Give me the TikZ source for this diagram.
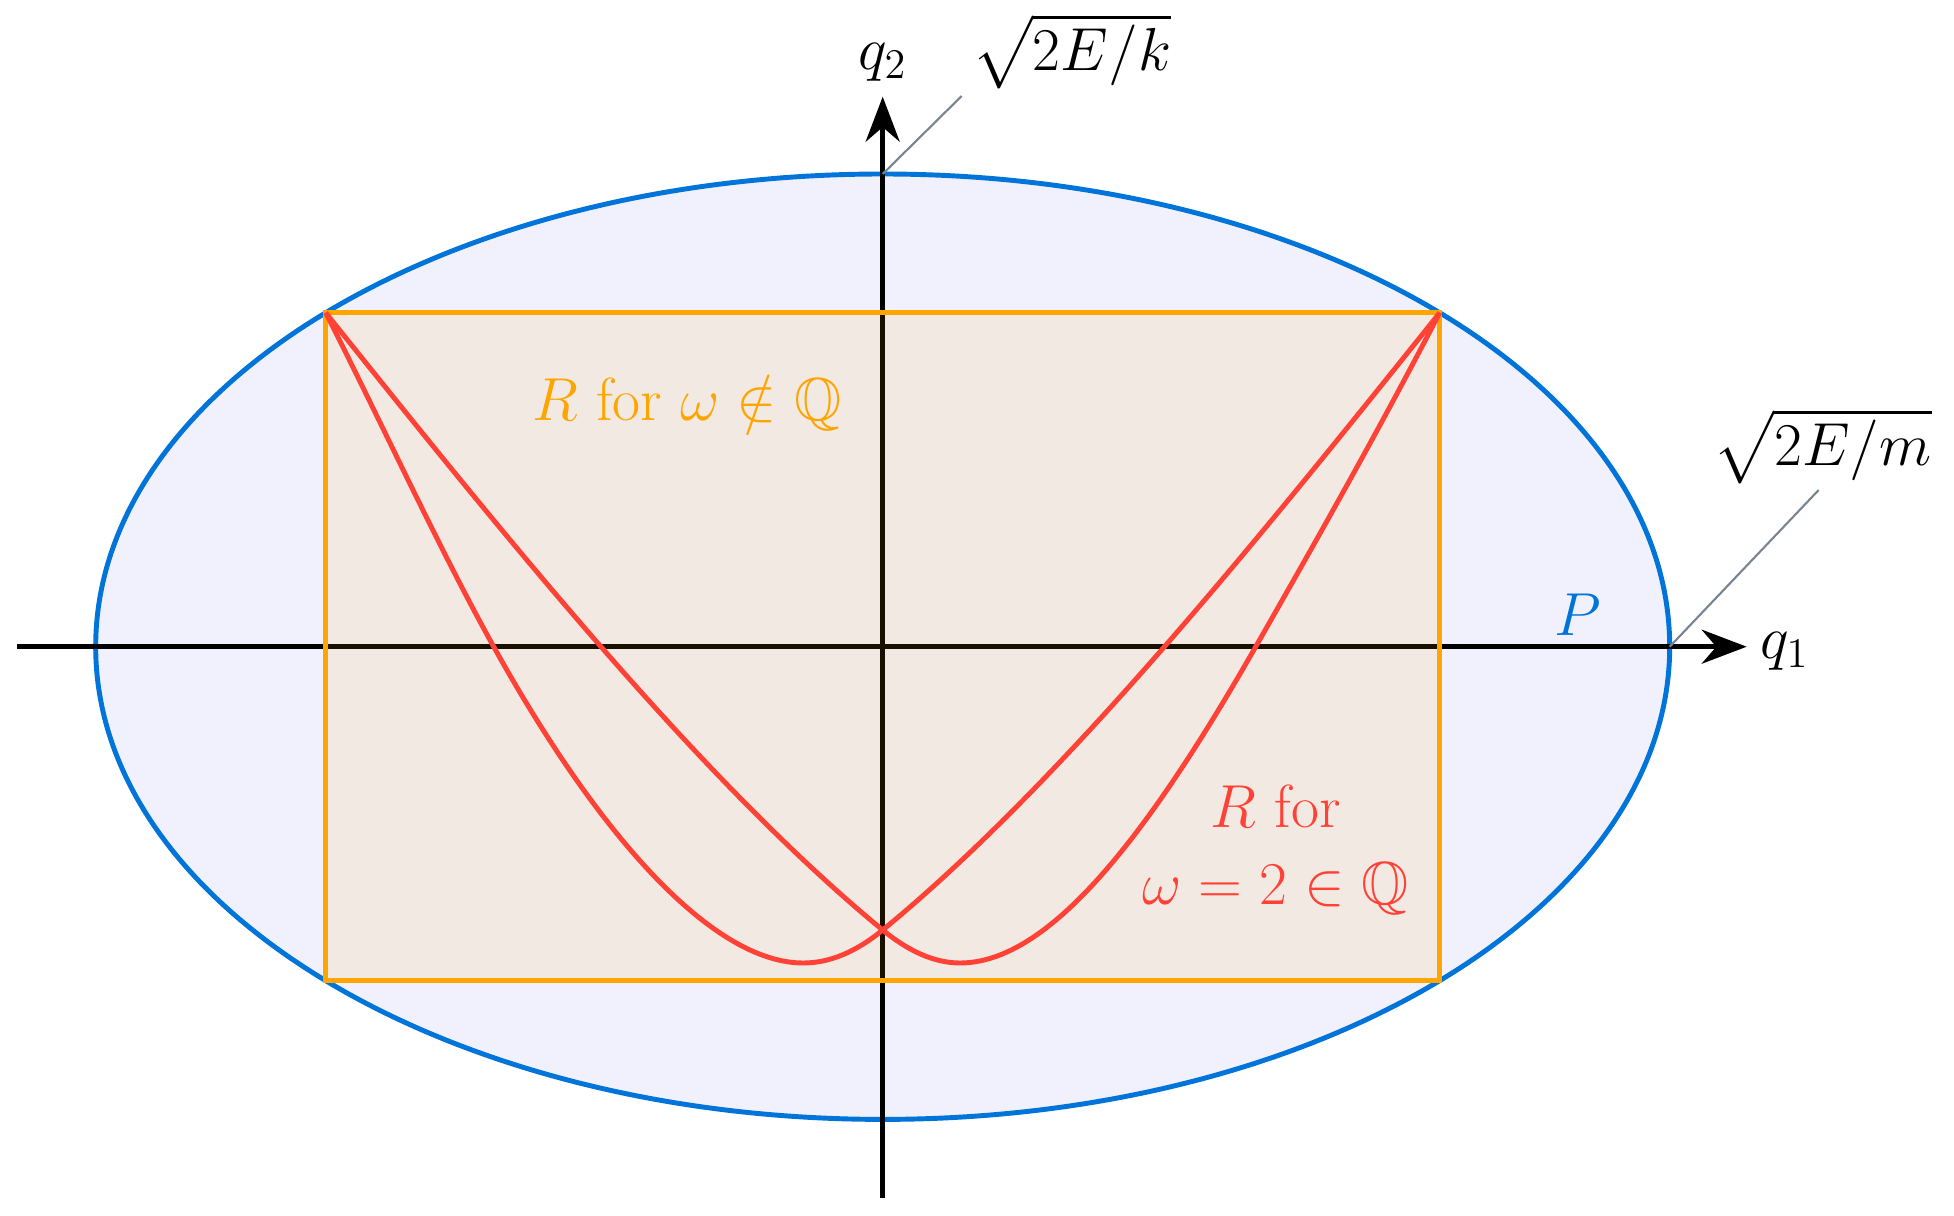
\documentclass[tikz,border=0pt]{standalone}
\usepackage{amsmath,amssymb}
\usepackage{tikz}
\usetikzlibrary{arrows.meta}

\definecolor{pblue}{RGB}{0,116,217}
\definecolor{pfill}{RGB}{240,241,252}
\definecolor{rorange}{RGB}{255,165,0}
\definecolor{rred}{RGB}{255,65,54}
\definecolor{leadgray}{RGB}{120,132,144}

\tikzset{
  axis/.style={line width=1.4pt,-{Stealth[length=4.5mm,width=3.4mm]}},
  leader/.style={draw=leadgray,line width=0.6pt},
  orbit/.style={draw=rred,line width=1.4pt}
}

\begin{document}
\begin{tikzpicture}[font=\LARGE]
  \useasboundingbox (-8.827,-5.683) rectangle (10.713,6.467);
  % energy surface P
  \filldraw[fill=pfill,draw=pblue,line width=1.4pt] (0,0) ellipse [x radius=7.87,y radius=4.727];
  \coordinate (etop) at (0,4.727);
  \coordinate (eright) at (7.87,0);
  % axes
  \draw[axis] (-8.66,0) -- (8.64,0) coordinate (xtip);
  \draw[axis] (0,-5.51) -- (0,5.50) coordinate (ytip);
  \node (qone) at (9.02,-0.05) {$q_1$};
  \node (qtwo) at (0,5.84) {$q_2$};
  % region R for irrational omega
  \coordinate (tl) at (-5.57,3.34);
  \coordinate (tr) at (5.57,3.34);
  \coordinate (br) at (5.57,-3.34);
  \filldraw[fill=rorange,fill opacity=0.1,draw=rorange,line width=1.4pt] (tl) rectangle (br);
  % orbit for omega = 2
  \coordinate (cross) at (0,-2.833);
  \coordinate (lax) at (-3.89,0);
  \coordinate (rax) at (3.73,0);
  \coordinate (lmin) at (-0.794,-3.163);
  \coordinate (rmin) at (0.773,-3.163);
  \draw[orbit] (tl) .. controls (-5.01,2.237) and (-4.45,1.008) .. (lax)
    .. controls (-2.836,-1.898) and (-1.699,-3.163) .. (lmin)
    .. controls (-0.533,-3.163) and (-0.268,-3.053) .. (cross)
    .. controls (1.8,-1.357) and (3.77,1.09) .. (tr);
  \draw[orbit] (tr) .. controls (4.957,2.157) and (4.343,1.073) .. (rax)
    .. controls (2.646,-1.898) and (1.665,-3.163) .. (rmin)
    .. controls (0.526,-3.163) and (0.268,-3.053) .. (cross)
    .. controls (-1.8,-1.357) and (-3.77,1.09) .. (tl);
  % labels
  \node[text=rorange] (rirr) at (-1.96,2.44) {$R$ for $\omega\notin\mathbb{Q}$};
  \node[text=rred,align=center] (rrat) at (3.93,-2.03) {$R$ for\\$\omega=2\in\mathbb{Q}$};
  \node[text=pblue] (plabel) at (6.95,0.32) {$P$};
  \node[inner sep=1pt] (qmax) at (1.89,5.95) {$\sqrt{2E/k}$};
  \node (pmax) at (9.40,2.00) {$\sqrt{2E/m}$};
  \coordinate (qlead) at (0.79,5.507);
  \coordinate (plead) at (9.36,1.567);
  \draw[leader] (etop) -- (qlead);
  \draw[leader] (eright) -- (plead);
\end{tikzpicture}
\end{document}
